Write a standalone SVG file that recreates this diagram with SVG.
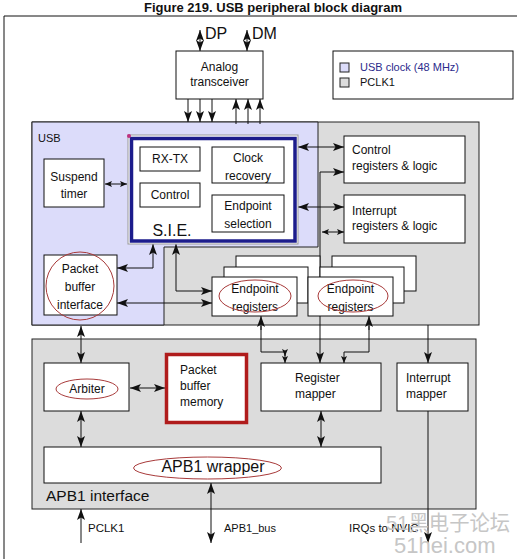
<svg xmlns="http://www.w3.org/2000/svg" width="517" height="559" viewBox="0 0 517 559">
<style>
.t{font-family:"Liberation Sans",Arial,sans-serif;font-size:12px;fill:#111}
.c{text-anchor:middle}
.box{fill:#fff;stroke:#111;stroke-width:1}
.ell{fill:none;stroke:#a83a3a;stroke-width:1}
.ln{fill:none;stroke:#111;stroke-width:1}
.d{marker-start:url(#a);marker-end:url(#a)}
.e{marker-end:url(#a)}
.ds{marker-start:url(#s);marker-end:url(#s)}
.wm{font-family:"Liberation Sans","Noto Sans CJK SC",sans-serif;fill:#c6c6c6}
</style>
<defs>
<marker id="a" viewBox="0 0 11 8" markerWidth="11" markerHeight="8" refX="11" refY="4" markerUnits="userSpaceOnUse" orient="auto-start-reverse"><path d="M0,0 L11,4 L0,8 L2.5,4 z" fill="#111"/></marker>
<marker id="s" viewBox="0 0 7 6" markerWidth="7" markerHeight="6" refX="7" refY="3" markerUnits="userSpaceOnUse" orient="auto-start-reverse"><path d="M0,0 L7,3 L0,6 L1.5,3 z" fill="#111"/></marker>
</defs>
<rect width="517" height="559" fill="#fff"/>
<text class="t c" x="273" y="12" style="font-size:13px;font-weight:bold">Figure 219. USB peripheral block diagram</text>
<path class="ln" d="M4,559 V16 H517"/>

<g id="usb-block">
<rect x="32" y="122" width="447" height="203" fill="#dcdcdc" stroke="#222"/>
<path d="M32,122 H318 V247 H164 V325 H32 Z" fill="#dcdcfa" stroke="#222"/>
<text class="t" x="38" y="142" style="font-size:11px">USB</text>
</g>
<g id="apb1-interface">
<rect x="32" y="339" width="444" height="170" fill="#dcdcdc" stroke="#222"/>
<text class="t" x="46" y="501" style="font-size:15.5px">APB1 interface</text>
</g>

<g id="connectors">
<path class="ln d" d="M200,30 V51"/>
<path class="ln d" d="M247,30 V51"/>
<path class="ln e" d="M188,99 V122"/>
<path class="ln e" d="M200,99 V122"/>
<path class="ln e" d="M212,99 V122"/>
<path class="ln e" d="M236,124 V99"/>
<path class="ln e" d="M248,124 V99"/>
<path class="ln e" d="M260,124 V99"/>
<path class="ln ds" d="M105,184 H127"/>
<path class="ln d" d="M298,147 H344"/>
<path class="ln d" d="M298,207 H344"/>
<path class="ln d" d="M344,172 H320 V363"/>
<path class="ln ds" d="M322,232 H344"/>
<path class="ln d" d="M117,268 H153 V244"/>
<path class="ln d" d="M176,244 V291 H212"/>
<path class="ln d" d="M117,303 H212"/>
<path class="ln d" d="M81,326 V363"/>
<path class="ln" d="M261,326 V352 H285 V356" marker-end="url(#s)"/>
<path class="ln" d="M261,330 V316" marker-end="url(#a)"/>
<path class="ln" d="M285,352 V363" marker-end="url(#s)"/>
<path class="ln" d="M369,330 V316" marker-end="url(#a)"/>
<path class="ln" d="M369,326 V352 H344 V363" marker-end="url(#s)"/>
<path class="ln e" d="M428,325 V363"/>
<path class="ln d" d="M130,388 H165"/>
<path class="ln d" d="M81,411 V447"/>
<path class="ln d" d="M321,411 V447"/>
<path class="ln e" d="M81,543 V509"/>
<path class="ln d" d="M211,483 V543"/>
<path class="ln e" d="M428,411 V543"/>
</g>

<g id="analog-transceiver">
<rect class="box" x="176" y="51" width="87" height="48"/>
<text class="t c" x="219.5" y="71">Analog</text>
<text class="t c" x="219.5" y="86">transceiver</text>
</g>
<g id="legend">
<rect class="box" x="333" y="51" width="180" height="48"/>
<rect x="340" y="63" width="9" height="9" fill="#dcdcfa" stroke="#222"/>
<text class="t" x="360" y="71" style="font-size:11px;fill:#2b2b8c">USB clock (48 MHz)</text>
<rect x="340" y="78" width="9" height="9" fill="#dcdcdc" stroke="#222"/>
<text class="t" x="360" y="86" style="font-size:11px">PCLK1</text>
</g>
<g id="suspend-timer">
<rect class="box" x="44" y="159" width="60" height="48"/>
<text class="t c" x="74" y="181">Suspend</text>
<text class="t c" x="74" y="198">timer</text>
</g>
<g id="sie">
<rect x="128" y="135" width="170" height="109" fill="#fff" stroke="#999"/>
<rect x="131.5" y="138.5" width="163.5" height="102.5" fill="#fff" stroke="#1c1c8c" stroke-width="3.5"/>
<circle cx="129" cy="136" r="2" fill="#c03080"/>
<text class="t c" x="172" y="236" style="font-size:16px">S.I.E.</text>
</g>
<g id="rx-tx">
<rect class="box" x="140" y="147" width="60" height="24"/>
<text class="t c" x="170" y="163">RX-TX</text>
</g>
<g id="control">
<rect class="box" x="140" y="183" width="60" height="24"/>
<text class="t c" x="170" y="199">Control</text>
</g>
<g id="clock-recovery">
<rect class="box" x="212" y="147" width="72" height="36"/>
<text class="t c" x="248" y="162">Clock</text>
<text class="t c" x="248" y="180">recovery</text>
</g>
<g id="endpoint-selection">
<rect class="box" x="212" y="195" width="72" height="37"/>
<text class="t c" x="248" y="210">Endpoint</text>
<text class="t c" x="248" y="228">selection</text>
</g>
<g id="control-registers">
<rect class="box" x="344" y="136" width="121" height="47"/>
<text class="t" x="352" y="154">Control</text>
<text class="t" x="352" y="170">registers &amp; logic</text>
</g>
<g id="interrupt-registers">
<rect class="box" x="344" y="195" width="121" height="48"/>
<text class="t" x="352" y="215">Interrupt</text>
<text class="t" x="352" y="230">registers &amp; logic</text>
</g>
<g id="packet-buffer-interface">
<rect class="box" x="44" y="255" width="73" height="60"/>
<text class="t c" x="80" y="273">Packet</text>
<text class="t c" x="80" y="291">buffer</text>
<text class="t c" x="80" y="309">interface</text>
<ellipse class="ell" cx="80" cy="286" rx="34" ry="34"/>
</g>
<g id="endpoint-registers-1">
<rect class="box" x="236" y="256" width="84" height="35"/>
<rect class="box" x="224" y="267" width="84" height="36"/>
<rect class="box" x="212" y="277" width="85" height="39"/>
<text class="t c" x="255" y="293">Endpoint</text>
<text class="t c" x="255" y="311">registers</text>
<ellipse class="ell" cx="255" cy="296" rx="36" ry="16"/>
</g>
<g id="endpoint-registers-2">
<rect class="box" x="332" y="256" width="84" height="35"/>
<rect class="box" x="320" y="267" width="84" height="36"/>
<rect class="box" x="308" y="277" width="85" height="39"/>
<text class="t c" x="350.5" y="293">Endpoint</text>
<text class="t c" x="350.5" y="311">registers</text>
<ellipse class="ell" cx="353" cy="296" rx="35" ry="16"/>
</g>
<g id="arbiter">
<rect class="box" x="44" y="363" width="85" height="48"/>
<text class="t c" x="87" y="393">Arbiter</text>
<ellipse class="ell" cx="87" cy="389" rx="31" ry="10"/>
</g>
<g id="packet-buffer-memory">
<rect x="166.5" y="354.5" width="80" height="68" fill="#fff" stroke="#b01c1c" stroke-width="3.5"/>
<text class="t" x="180" y="374">Packet</text>
<text class="t" x="180" y="390">buffer</text>
<text class="t" x="180" y="406">memory</text>
</g>
<g id="register-mapper">
<rect class="box" x="261" y="363" width="120" height="48"/>
<text class="t" x="295" y="382">Register</text>
<text class="t" x="295" y="398">mapper</text>
</g>
<g id="interrupt-mapper">
<rect class="box" x="397" y="363" width="71" height="48"/>
<text class="t" x="406" y="382">Interrupt</text>
<text class="t" x="406" y="398">mapper</text>
</g>
<g id="apb1-wrapper">
<rect class="box" x="44" y="447" width="337" height="36"/>
<text class="t c" x="213" y="472" style="font-size:16px">APB1 wrapper</text>
<ellipse class="ell" cx="207.5" cy="468" rx="74" ry="11"/>
</g>
<g id="labels">
<text class="t" x="205" y="39" style="font-size:16px">DP</text>
<text class="t" x="252" y="39" style="font-size:16px">DM</text>
<text class="t" x="88" y="532" style="font-size:11.5px">PCLK1</text>
<text class="t" x="224" y="532" style="font-size:11px">APB1_bus</text>
<text class="t" x="349" y="532" style="font-size:11.5px">IRQs to NVIC</text>
</g>
<g id="watermark">
<text class="wm" x="386" y="530" font-size="21" textLength="124" lengthAdjust="spacingAndGlyphs">51黑电子论坛</text>
<text class="wm" x="394" y="553" font-size="22">51hei.com</text>
</g>
</svg>
